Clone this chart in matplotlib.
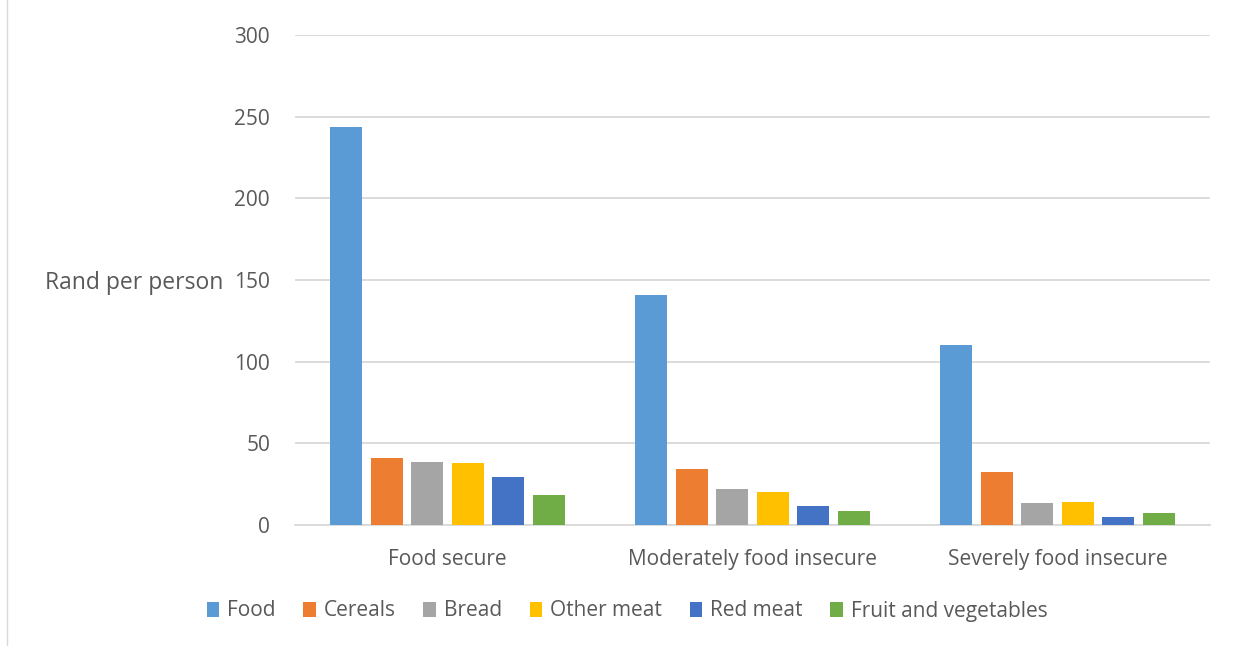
import matplotlib
matplotlib.use("Agg")
import matplotlib.pyplot as plt
from matplotlib.patches import Patch
from matplotlib.lines import Line2D
import numpy as np

categories = ["Food secure", "Moderately food insecure", "Severely food insecure"]
series_names = ["Food", "Cereals", "Bread", "Other meat", "Red meat", "Fruit and vegetables"]
food = [243.5, 140.8, 110.3]
cereals = [40.9, 34.5, 32.6]
bread = [38.7, 21.8, 13.5]
other_meat = [37.7, 20.0, 14.3]
red_meat = [29.3, 11.8, 5.1]
fruit_veg = [18.2, 8.6, 7.3]
y_ticks = [0, 50, 100, 150, 200, 250, 300]

colors = ["#5B9BD5", "#ED7D31", "#A5A5A5", "#FFC000", "#4472C4", "#70AD47"]
text_color = "#595959"
grid_color = "#D9D9D9"

plt.rcParams["font.family"] = ["Open Sans", "DejaVu Sans"]
fs = 15

fig = plt.figure(figsize=(12.36, 6.46), dpi=100)
ax = fig.add_axes([295 / 1236, 1 - 525 / 646, 915 / 1236, 490 / 646])

all_series = [food, cereals, bread, other_meat, red_meat, fruit_veg]
x = np.arange(len(categories))
step = 40.5 / 305
width = 32 / 305
for i, (vals, col, name) in enumerate(zip(all_series, colors, series_names)):
    offs = (i - 2.5) * step
    ax.bar(x + offs, vals, width=width, color=col, label=name, zorder=3)

ax.set_xlim(-0.5, 2.5)
ax.set_ylim(0, 300)
ax.set_yticks(y_ticks)
ax.set_xticks(x)
ax.set_xticklabels(categories)
ax.yaxis.grid(True, color=grid_color, linewidth=1.3, zorder=0)
ax.set_axisbelow(True)
for s in ["top", "right", "left"]:
    ax.spines[s].set_visible(False)
ax.spines["bottom"].set_color(grid_color)
ax.spines["bottom"].set_linewidth(1.3)
ax.tick_params(axis="both", length=0, labelsize=fs, colors=text_color)
ax.tick_params(axis="y", pad=18)
ax.tick_params(axis="x", pad=17)

fig.text(45 / 1236, 1 - 283 / 646, "Rand per person", fontsize=16.5,
         color=text_color, ha="left", va="center")

handles = [Patch(facecolor=c, edgecolor="none") for c in colors]
leg = fig.legend(handles, series_names, loc="center", bbox_to_anchor=(627 / 1236, 1 - 611 / 646),
                 ncol=6, frameon=False, fontsize=fs, handlelength=0.6, handleheight=0.7,
                 handletextpad=0.38, columnspacing=1.33)
for t in leg.get_texts():
    t.set_color(text_color)

# chart frame edge
fig.add_artist(Line2D([7 / 1236, 7 / 1236], [0, 1], color=grid_color, linewidth=1.0))

fig.savefig("out.png", dpi=100, facecolor="white")
